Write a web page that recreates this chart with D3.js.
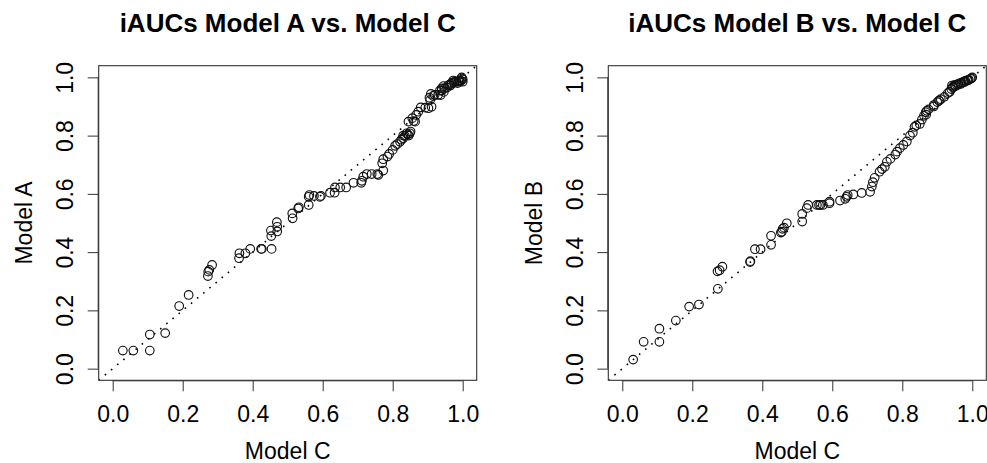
<!DOCTYPE html>
<html>
<head>
<meta charset="utf-8">
<script src="https://cdn.jsdelivr.net/npm/d3@7"></script>
<style>
  html, body { margin: 0; padding: 0; background: #fff; }
  svg { display: block; }
  text { font-family: "Liberation Sans", Arial, Helvetica, sans-serif; fill: #000; }
</style>
</head>
<body>
<svg id="chart" width="987" height="463"></svg>
<script>
// ---- data ----
const titles = ["iAUCs Model A vs. Model C", "iAUCs Model B vs. Model C"];
const xLabels = ["Model C", "Model C"];
const yLabels = ["Model A", "Model B"];
const tickValues = [0, 0.2, 0.4, 0.6, 0.8, 1.0];
const tickLabels = ["0.0", "0.2", "0.4", "0.6", "0.8", "1.0"];

const modelC_left = [0.029,0.059,0.106,0.106,0.150,0.190,0.217,0.272,0.273,0.276,0.284,0.361,0.362,0.379,0.393,0.424,0.426,0.454,0.453,0.452,0.470,0.469,0.470,0.514,0.513,0.530,0.532,0.560,0.560,0.562,0.575,0.592,0.595,0.621,0.634,0.635,0.650,0.667,0.688,0.710,0.712,0.716,0.726,0.740,0.756,0.759,0.773,0.770,0.773,0.785,0.790,0.800,0.807,0.813,0.821,0.830,0.835,0.840,0.849,0.851,0.845,0.856,0.864,0.867,0.873,0.880,0.893,0.902,0.911,0.907,0.909,0.916,0.930,0.937,0.940,0.945,0.955,0.962,0.969,0.973,0.982,0.991,0.997,1.000,1.000,0.946,0.985,0.978,0.825,0.843,0.905,0.935,0.965,0.992,0.940,0.948,0.958,0.968,0.975,0.988,0.995,0.998,0.920,0.860,0.846,0.830];
const modelA = [0.062,0.062,0.117,0.062,0.122,0.215,0.253,0.318,0.333,0.339,0.356,0.379,0.396,0.396,0.411,0.411,0.411,0.411,0.455,0.474,0.487,0.503,0.471,0.516,0.533,0.550,0.554,0.562,0.590,0.596,0.593,0.590,0.593,0.604,0.604,0.622,0.622,0.622,0.638,0.638,0.645,0.659,0.668,0.668,0.668,0.665,0.680,0.705,0.719,0.728,0.737,0.751,0.765,0.771,0.779,0.791,0.799,0.808,0.808,0.814,0.848,0.860,0.848,0.871,0.882,0.897,0.896,0.894,0.899,0.922,0.943,0.936,0.940,0.939,0.962,0.970,0.965,0.975,0.982,0.989,0.985,0.989,1.000,0.985,0.993,0.950,0.980,0.986,0.786,0.804,0.930,0.955,0.972,0.985,0.955,0.962,0.972,0.978,0.982,0.985,0.988,0.996,0.940,0.850,0.800,0.800];

const modelC_right = [0.031,0.061,0.106,0.106,0.153,0.191,0.219,0.273,0.272,0.278,0.286,0.365,0.366,0.379,0.395,0.425,0.425,0.453,0.456,0.458,0.462,0.470,0.514,0.514,0.527,0.531,0.556,0.562,0.566,0.573,0.592,0.592,0.622,0.637,0.641,0.644,0.660,0.684,0.708,0.713,0.716,0.721,0.735,0.742,0.750,0.756,0.766,0.780,0.785,0.793,0.803,0.813,0.822,0.830,0.835,0.840,0.850,0.856,0.862,0.867,0.875,0.890,0.900,0.910,0.920,0.930,0.940,0.945,0.950,0.956,0.965,0.975,0.985,0.995,1.000,0.942,0.970,0.990,0.960,0.868,0.905,0.935,0.980,0.945,0.952,0.960,0.968,0.978,0.988,0.998,0.935,0.905,0.870,0.890];
const modelB = [0.031,0.092,0.092,0.137,0.165,0.213,0.220,0.274,0.334,0.338,0.350,0.366,0.369,0.410,0.410,0.425,0.456,0.467,0.470,0.480,0.484,0.499,0.505,0.531,0.551,0.562,0.562,0.562,0.562,0.562,0.568,0.573,0.577,0.583,0.590,0.596,0.598,0.603,0.607,0.625,0.640,0.655,0.676,0.685,0.693,0.710,0.720,0.735,0.745,0.757,0.768,0.780,0.800,0.810,0.830,0.835,0.840,0.855,0.868,0.880,0.890,0.905,0.915,0.925,0.933,0.946,0.960,0.968,0.974,0.974,0.980,0.985,0.990,0.995,1.000,0.972,0.982,0.992,0.978,0.872,0.920,0.950,0.988,0.965,0.970,0.975,0.978,0.984,0.990,0.997,0.950,0.920,0.885,0.900];

const panels = [
  { xs: modelC_left, ys: modelA },
  { xs: modelC_right, ys: modelB }
];

// ---- drawing ----
const svg = d3.select("#chart");
const panelOffsets = [0, 509.6];
const plotW = 378, plotH = 314.6;
const plotLeft = 98.7, plotTop = 65.7;

panels.forEach((p, i) => {
  const g = svg.append("g").attr("transform", `translate(${plotLeft + panelOffsets[i]},${plotTop})`);
  const x = d3.scaleLinear().domain([-0.04, 1.04]).range([0, plotW]);
  const y = d3.scaleLinear().domain([-0.04, 1.04]).range([plotH, 0]);

  const clipId = "clip" + i;
  g.append("clipPath").attr("id", clipId)
    .append("rect").attr("x", 0).attr("y", 0).attr("width", plotW).attr("height", plotH);

  // dotted identity line
  g.append("line")
    .attr("clip-path", `url(#${clipId})`)
    .attr("x1", x(-0.04)).attr("y1", y(-0.04))
    .attr("x2", x(1.04)).attr("y2", y(1.04))
    .attr("stroke", "#000").attr("stroke-width", 1.6)
    .attr("stroke-dasharray", "1.6 6.4");

  // points
  g.append("g").selectAll("circle")
    .data(p.xs.map((v, k) => [v, p.ys[k]]))
    .join("circle")
    .attr("cx", d => x(d[0]))
    .attr("cy", d => y(d[1]))
    .attr("r", 4.3)
    .attr("fill", "none")
    .attr("stroke", "#111")
    .attr("stroke-width", 1.15);

  // box
  g.append("rect").attr("x", 0).attr("y", 0).attr("width", plotW).attr("height", plotH)
    .attr("fill", "none").attr("stroke", "#333").attr("stroke-width", 1.1);

  // x axis
  const xAxis = d3.axisBottom(x).tickValues(tickValues).tickFormat((d, k) => tickLabels[k])
    .tickSizeInner(11).tickSizeOuter(0).tickPadding(14);
  const gx = g.append("g").attr("transform", `translate(0,${plotH})`).call(xAxis);
  gx.select(".domain").attr("d", `M${x(0)},0.5H${x(1)}`).attr("stroke", "#333");
  gx.selectAll(".tick line").attr("stroke", "#333");
  gx.selectAll(".tick text").attr("font-size", 23).attr("font-family", "Liberation Sans, Arial, sans-serif")
    .attr("fill", "#111").attr("dy", "0.71em");

  // y axis
  const yAxis = d3.axisLeft(y).tickValues(tickValues).tickFormat((d, k) => tickLabels[k])
    .tickSizeInner(11).tickSizeOuter(0).tickPadding(14);
  const gy = g.append("g").call(yAxis);
  gy.select(".domain").attr("d", `M-0.5,${y(0)}V${y(1)}`).attr("stroke", "#333");
  gy.selectAll(".tick line").attr("stroke", "#333");
  gy.selectAll(".tick text")
    .attr("font-size", 23).attr("font-family", "Liberation Sans, Arial, sans-serif").attr("fill", "#111")
    .attr("x", null).attr("dy", null)
    .attr("text-anchor", "middle")
    .attr("transform", "translate(-25.5,0) rotate(-90)");

  // title
  g.append("text")
    .attr("x", plotW / 2).attr("y", 31.7 - plotTop)
    .attr("text-anchor", "middle")
    .attr("font-size", 26).attr("font-weight", "bold")
    .text(titles[i]);

  // x label
  g.append("text")
    .attr("x", plotW / 2).attr("y", 459 - plotTop)
    .attr("text-anchor", "middle")
    .attr("font-size", 23).attr("fill", "#111")
    .text(xLabels[i]);

  // y label
  g.append("text")
    .attr("transform", `translate(${32 - plotLeft},${(y(0) + y(1)) / 2}) rotate(-90)`)
    .attr("text-anchor", "middle")
    .attr("font-size", 23).attr("fill", "#111")
    .text(yLabels[i]);
});
</script>
</body>
</html>
